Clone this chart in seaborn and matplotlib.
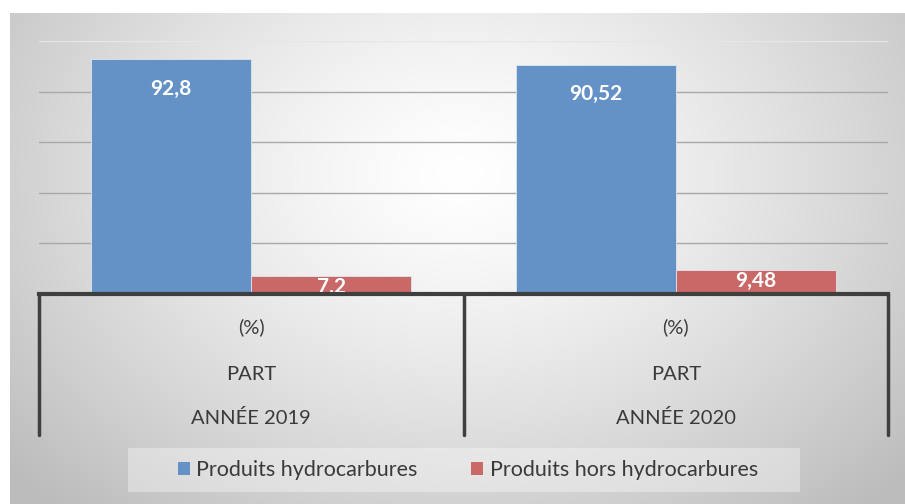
import numpy as np
import pandas as pd
import matplotlib
matplotlib.use('Agg')
import matplotlib.pyplot as plt
from matplotlib.patches import Patch, Rectangle
import seaborn as sns

# Données
annees = ['ANNÉE 2019', 'ANNÉE 2020']
series = ['Produits hydrocarbures', 'Produits hors hydrocarbures']
hydrocarbures = [92.8, 90.52]
hors_hydrocarbures = [7.2, 9.48]
etiquettes = [['92,8', '90,52'], ['7,2', '9,48']]
niveaux = ['(%)', 'PART']

couleurs = ['#6592c6', '#c96866']

sns.set_theme(style='white')
plt.rcParams['font.family'] = ['Lato', 'DejaVu Sans']

df = pd.DataFrame({
    'annee': annees * 2,
    'serie': [series[0]] * 2 + [series[1]] * 2,
    'valeur': hydrocarbures + hors_hydrocarbures,
})

W, H = 905, 504
fig = plt.figure(figsize=(W / 100, H / 100), dpi=100)

# fond dégradé radial
bg = fig.add_axes([10 / W, 0, 1 - 10 / W, (H - 13) / H], zorder=0)
yy, xx = np.mgrid[0:491, 0:895]
cx, cy = 450, 160
r = np.sqrt(((xx - cx) / 560) ** 2 + ((yy - cy) / 420) ** 2)
g = np.clip(1 - 0.24 * r ** 1.3, 0.74, 1)
bg.imshow(np.dstack([g, g, g]), aspect='auto', interpolation='bilinear')
bg.axis('off')

# graphique principal
x0, x1 = 39 / W, 888 / W
yb, yt = (H - 294) / H, (H - 41) / H
ax = fig.add_axes([x0, yb, x1 - x0, yt - yb], zorder=1)
ax.patch.set_alpha(0)

sns.barplot(data=df, x='annee', y='valeur', hue='serie', palette=couleurs,
            width=0.755, gap=0, saturation=1, legend=False, ax=ax,
            edgecolor='#dfe6f0', linewidth=0.6, zorder=3)

ax.set_ylim(0, 100)
ax.set_xlim(-0.5, 1.5)
ax.set_yticks([0, 20, 40, 60, 80, 100])
ax.set_yticklabels([])
ax.set_xticks([])
ax.set_xlabel('')
ax.set_ylabel('')
ax.tick_params(left=False, bottom=False)
ax.grid(axis='y', color='#a8a8a8', linewidth=1, zorder=0)
ax.set_axisbelow(True)
ax.get_ygridlines()[-1].set_color('#e6e6e6')
for s in ['top', 'right', 'left']:
    ax.spines[s].set_visible(False)
ax.spines['bottom'].set_color('#3f3f3f')
ax.spines['bottom'].set_linewidth(3)
ax.spines['bottom'].set_zorder(6)

# étiquettes de valeurs
for cont, labs in zip(ax.containers, etiquettes):
    for bar, lab in zip(cont, labs):
        h = bar.get_height()
        off = -14 if h > 20 else -1
        ax.annotate(lab, (bar.get_x() + bar.get_width() / 2, h),
                    xytext=(0, off), textcoords='offset points', ha='center',
                    va='top', color='white', fontsize=15, fontweight='bold',
                    zorder=5)

# axe des catégories multi-niveaux
trans = ax.get_xaxis_transform()
ylow = -(435 - 294) / (294 - 41)
for xs in [-0.5, 0.5, 1.5]:
    ax.plot([xs, xs], [0, ylow], transform=trans, color='#3f3f3f', lw=2.5,
            clip_on=False, zorder=6)
for i, a in enumerate(annees):
    for lab, ypix in zip(niveaux + [a], [327, 375, 418]):
        ax.text(i, -(ypix - 294) / 253, lab, transform=trans, ha='center',
                va='center', fontsize=14.5, color='#3a3a3a')

# légende
fig.patches.append(Rectangle((128 / W, (H - 492) / H), 672 / W, 44 / H,
                             transform=fig.transFigure, facecolor='white',
                             alpha=0.35, edgecolor='none', zorder=1))
handles = [Patch(facecolor=c, edgecolor='none') for c in couleurs]
leg = fig.legend(handles, series, loc='center',
                 bbox_to_anchor=(468 / W, (H - 470) / H),
                 ncol=2, frameon=False, fontsize=15.5, handlelength=0.55,
                 handleheight=0.55, handletextpad=0.3, columnspacing=2.5)
for t in leg.get_texts():
    t.set_color('#3a3a3a')

fig.savefig('out.png', dpi=100)
